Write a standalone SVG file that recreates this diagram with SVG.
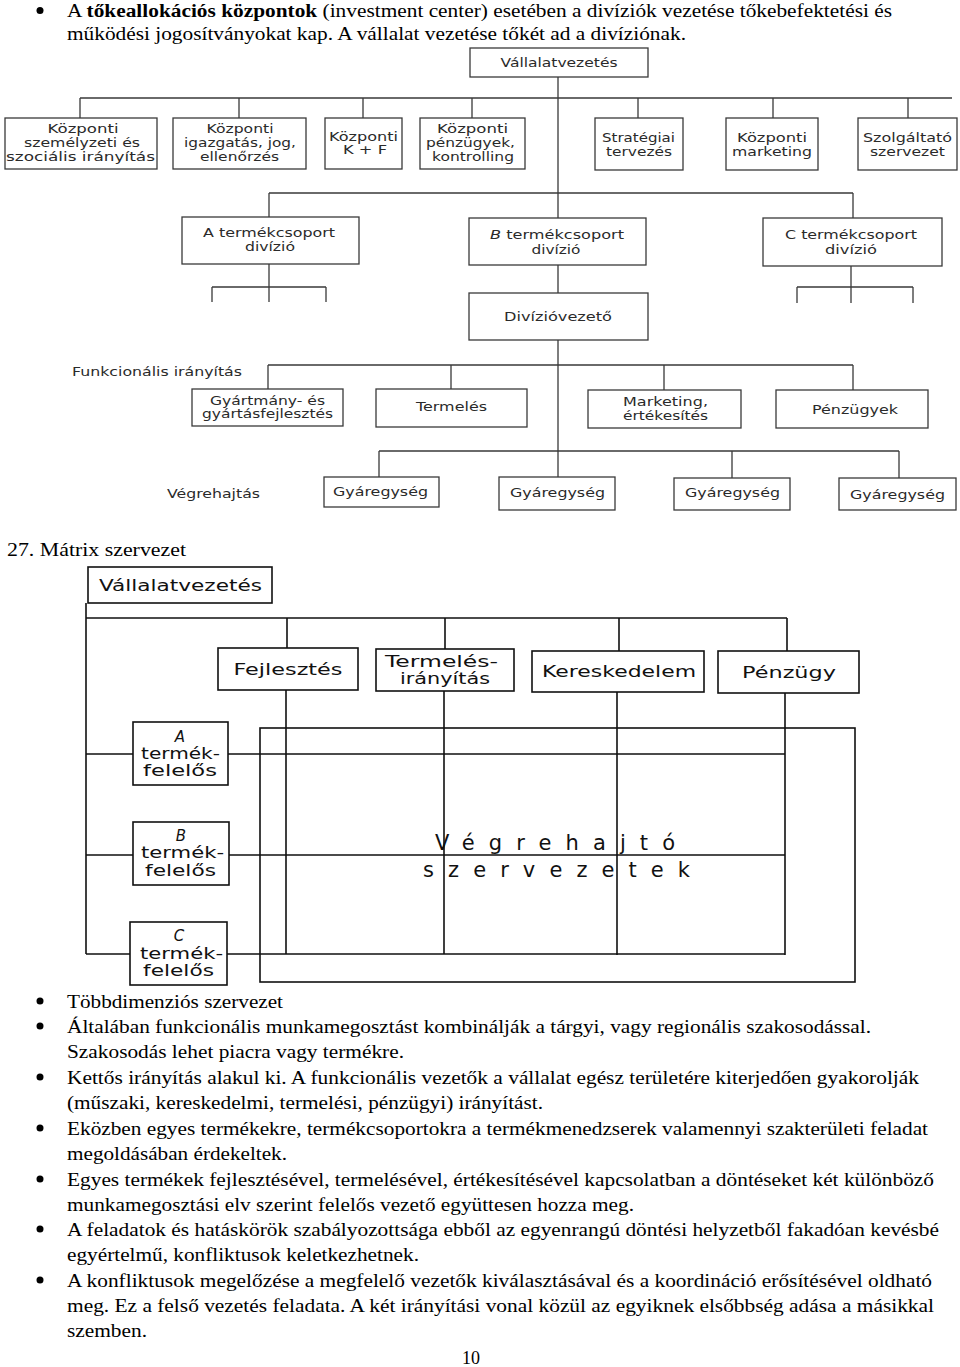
<svg xmlns="http://www.w3.org/2000/svg" width="960" height="1367" viewBox="0 0 960 1367">
<style>
.p{font-family:"Liberation Serif","Times New Roman",serif;font-size:18px;fill:#000}
.bul{fill:#000}
.b{fill:#fff;stroke:#3a3a3a;stroke-width:1.3}
.c{fill:none;stroke:#3a3a3a;stroke-width:1.3}
.t{font-family:"DejaVu Sans",sans-serif;font-size:11.5px;fill:#2a2a2a;text-anchor:middle}
.tl{font-family:"DejaVu Sans",sans-serif;font-size:11.5px;fill:#2a2a2a}
.mb{fill:#fff;stroke:#111;stroke-width:1.6}
.mc{fill:none;stroke:#111;stroke-width:1.6}
.mt{font-family:"DejaVu Sans",sans-serif;font-size:15px;fill:#111;text-anchor:middle}
.big{font-family:"DejaVu Sans",sans-serif;font-size:21px;fill:#111}
</style>
<rect width="960" height="1367" fill="#fff"/>

<!-- top paragraph -->
<g id="intro">
<circle class="bul" cx="40" cy="10.5" r="3.5"/>
<text class="p" x="67" y="16.5" textLength="825" lengthAdjust="spacingAndGlyphs">A <tspan font-weight="bold">tőkeallokációs központok</tspan> (investment center) esetében a divíziók vezetése tőkebefektetési és</text>
<text class="p" x="67" y="40" textLength="619" lengthAdjust="spacingAndGlyphs">működési jogosítványokat kap. A vállalat vezetése tőkét ad a divíziónak.</text>
</g>

<!-- top diagram connectors -->
<g id="connectors-top">
<path class="c" d="M558,77V218 M80,98H952 M80,98V118 M239,98V118 M363,98V118 M472,98V118 M638,98V118 M773,98V118 M908,98V118"/>
<path class="c" d="M269,193H853 M269,193V217 M853,193V218"/>
<path class="c" d="M269,264V302 M212,287H326 M212,287V302 M326,287V302"/>
<path class="c" d="M851,266V303 M797,287H913 M797,287V303 M913,287V303"/>
<path class="c" d="M558,265V293 M558,340V477"/>
<path class="c" d="M268,365H853 M268,365V389 M451,365V389 M664,365V390 M853,365V390"/>
<path class="c" d="M379,451H899 M379,451V477 M732,451V478 M899,451V478"/>
</g>

<g id="vallalatvezetes-top"><rect class="b" x="470" y="48" width="178" height="29"/><text class="t" x="559" y="67" textLength="117" lengthAdjust="spacingAndGlyphs">Vállalatvezetés</text></g>

<g id="kp-szemelyzeti"><rect class="b" x="5" y="118" width="152" height="51"/>
<text class="t" x="83" y="133" textLength="71" lengthAdjust="spacingAndGlyphs">Központi</text>
<text class="t" x="82" y="147" textLength="116" lengthAdjust="spacingAndGlyphs">személyzeti és</text>
<text class="t" x="80.5" y="161" textLength="149" lengthAdjust="spacingAndGlyphs">szociális irányítás</text></g>

<g id="kp-igazgatas"><rect class="b" x="173" y="118" width="133" height="51"/>
<text class="t" x="240" y="133" textLength="67" lengthAdjust="spacingAndGlyphs">Központi</text>
<text class="t" x="240" y="147" textLength="112" lengthAdjust="spacingAndGlyphs">igazgatás, jog,</text>
<text class="t" x="239.5" y="161" textLength="79" lengthAdjust="spacingAndGlyphs">ellenőrzés</text></g>

<g id="kp-kf"><rect class="b" x="325" y="118" width="77" height="51"/>
<text class="t" x="363.5" y="141" textLength="69" lengthAdjust="spacingAndGlyphs">Központi</text>
<text class="t" x="365" y="154" textLength="44" lengthAdjust="spacingAndGlyphs">K + F</text></g>

<g id="kp-penzugyek"><rect class="b" x="420" y="118" width="105" height="51"/>
<text class="t" x="472.5" y="133" textLength="71" lengthAdjust="spacingAndGlyphs">Központi</text>
<text class="t" x="470.5" y="147" textLength="89" lengthAdjust="spacingAndGlyphs">pénzügyek,</text>
<text class="t" x="473" y="161" textLength="82" lengthAdjust="spacingAndGlyphs">kontrolling</text></g>

<g id="strategiai"><rect class="b" x="595" y="118" width="88" height="52"/>
<text class="t" x="638.5" y="142" textLength="73" lengthAdjust="spacingAndGlyphs">Stratégiai</text>
<text class="t" x="639" y="156" textLength="66" lengthAdjust="spacingAndGlyphs">tervezés</text></g>

<g id="kp-marketing"><rect class="b" x="726" y="118" width="92" height="52"/>
<text class="t" x="772" y="142" textLength="70" lengthAdjust="spacingAndGlyphs">Központi</text>
<text class="t" x="772" y="156" textLength="80" lengthAdjust="spacingAndGlyphs">marketing</text></g>

<g id="szolgaltato"><rect class="b" x="858" y="118" width="99" height="52"/>
<text class="t" x="907.5" y="142" textLength="89" lengthAdjust="spacingAndGlyphs">Szolgáltató</text>
<text class="t" x="907.5" y="156" textLength="75" lengthAdjust="spacingAndGlyphs">szervezet</text></g>

<g id="a-divizio"><rect class="b" x="182" y="217" width="177" height="47"/>
<text class="t" x="269" y="237" textLength="132" lengthAdjust="spacingAndGlyphs">A termékcsoport</text>
<text class="t" x="270" y="251" textLength="50" lengthAdjust="spacingAndGlyphs">divízió</text></g>

<g id="b-divizio"><rect class="b" x="469" y="218" width="177" height="47"/>
<text class="t" x="557" y="239" textLength="134" lengthAdjust="spacingAndGlyphs"><tspan font-style="italic">B</tspan> termékcsoport</text>
<text class="t" x="556" y="254" textLength="49" lengthAdjust="spacingAndGlyphs">divízió</text></g>

<g id="c-divizio"><rect class="b" x="763" y="218" width="179" height="48"/>
<text class="t" x="851" y="239" textLength="132" lengthAdjust="spacingAndGlyphs">C termékcsoport</text>
<text class="t" x="851" y="254" textLength="52" lengthAdjust="spacingAndGlyphs">divízió</text></g>

<g id="diviziovezeto"><rect class="b" x="469" y="293" width="179" height="47"/>
<text class="t" x="558" y="321" textLength="108" lengthAdjust="spacingAndGlyphs">Divízióvezető</text></g>

<g id="label-funkc"><text class="tl" x="72" y="376" textLength="170" lengthAdjust="spacingAndGlyphs">Funkcionális irányítás</text></g>

<g id="gyartmany"><rect class="b" x="192" y="389" width="151" height="37"/>
<text class="t" x="267.5" y="405" textLength="115" lengthAdjust="spacingAndGlyphs">Gyártmány- és</text>
<text class="t" x="267.5" y="418" textLength="131" lengthAdjust="spacingAndGlyphs">gyártásfejlesztés</text></g>

<g id="termeles"><rect class="b" x="376" y="389" width="151" height="38"/>
<text class="t" x="451.5" y="411" textLength="71" lengthAdjust="spacingAndGlyphs">Termelés</text></g>

<g id="marketing"><rect class="b" x="588" y="390" width="153" height="38"/>
<text class="t" x="665.5" y="406" textLength="85" lengthAdjust="spacingAndGlyphs">Marketing,</text>
<text class="t" x="665.5" y="420" textLength="85" lengthAdjust="spacingAndGlyphs">értékesítés</text></g>

<g id="penzugyek"><rect class="b" x="776" y="390" width="152" height="38"/>
<text class="t" x="855" y="414" textLength="86" lengthAdjust="spacingAndGlyphs">Pénzügyek</text></g>

<g id="label-vegrehajtas"><text class="tl" x="167" y="498" textLength="93" lengthAdjust="spacingAndGlyphs">Végrehajtás</text></g>

<g id="gyaregyseg1"><rect class="b" x="324" y="477" width="115" height="30"/><text class="t" x="380.5" y="496" textLength="95" lengthAdjust="spacingAndGlyphs">Gyáregység</text></g>
<g id="gyaregyseg2"><rect class="b" x="499" y="477" width="116" height="33"/><text class="t" x="557.5" y="497" textLength="95" lengthAdjust="spacingAndGlyphs">Gyáregység</text></g>
<g id="gyaregyseg3"><rect class="b" x="674" y="478" width="116" height="32"/><text class="t" x="732.5" y="497" textLength="95" lengthAdjust="spacingAndGlyphs">Gyáregység</text></g>
<g id="gyaregyseg4"><rect class="b" x="839" y="478" width="117" height="32"/><text class="t" x="897.5" y="499" textLength="95" lengthAdjust="spacingAndGlyphs">Gyáregység</text></g>

<!-- heading -->
<g id="heading"><text class="p" x="7" y="556" textLength="179" lengthAdjust="spacingAndGlyphs">27. Mátrix szervezet</text></g>

<!-- matrix connectors -->
<g id="connectors-matrix">
<rect class="mc" x="260" y="728" width="595" height="254"/>
<path class="mc" d="M86,603V954 M86,618H787 M287,618V648 M445,618V649 M619,618V651 M787,618V651"/>
<path class="mc" d="M286,690V954 M444,691V954 M617,692V955 M785,693V955"/>
<path class="mc" d="M86,754H133 M228,754H785 M86,855H133 M229,855H785 M86,954H130 M227,954H785"/>
</g>

<g id="m-vallalatvezetes"><rect class="mb" x="88" y="567" width="184" height="36"/><text class="mt" x="180.5" y="591" font-size="16.5" textLength="163" lengthAdjust="spacingAndGlyphs">Vállalatvezetés</text></g>
<g id="m-fejlesztes"><rect class="mb" x="218" y="648" width="140" height="42"/><text class="mt" x="288" y="675" textLength="109" lengthAdjust="spacingAndGlyphs">Fejlesztés</text></g>
<g id="m-termelesiranyitas"><rect class="mb" x="376" y="649" width="138" height="42"/>
<text class="mt" x="441.5" y="667" textLength="113" lengthAdjust="spacingAndGlyphs">Termelés-</text>
<text class="mt" x="445" y="684" textLength="90" lengthAdjust="spacingAndGlyphs">irányítás</text></g>
<g id="m-kereskedelem"><rect class="mb" x="532" y="651" width="172" height="41"/><text class="mt" x="619" y="677" textLength="154" lengthAdjust="spacingAndGlyphs">Kereskedelem</text></g>
<g id="m-penzugy"><rect class="mb" x="718" y="651" width="141" height="42"/><text class="mt" x="789" y="678" textLength="94" lengthAdjust="spacingAndGlyphs">Pénzügy</text></g>

<g id="m-a-termekfelelos"><rect class="mb" x="133" y="722" width="95" height="63"/>
<text class="mt" x="180" y="742" font-style="italic">A</text>
<text class="mt" x="180.5" y="759" textLength="79" lengthAdjust="spacingAndGlyphs">termék-</text>
<text class="mt" x="180" y="776" textLength="74" lengthAdjust="spacingAndGlyphs">felelős</text></g>
<g id="m-b-termekfelelos"><rect class="mb" x="133" y="822" width="96" height="63"/>
<text class="mt" x="181" y="841" font-style="italic">B</text>
<text class="mt" x="182.5" y="858" textLength="83" lengthAdjust="spacingAndGlyphs">termék-</text>
<text class="mt" x="180.5" y="876" textLength="71" lengthAdjust="spacingAndGlyphs">felelős</text></g>
<g id="m-c-termekfelelos"><rect class="mb" x="130" y="922" width="97" height="63"/>
<text class="mt" x="179" y="941" font-style="italic">C</text>
<text class="mt" x="181.5" y="959" textLength="83" lengthAdjust="spacingAndGlyphs">termék-</text>
<text class="mt" x="178.5" y="976" textLength="71" lengthAdjust="spacingAndGlyphs">felelős</text></g>

<g id="m-vegrehajto">
<text class="big" x="435" y="850" textLength="240" lengthAdjust="spacing">Végrehajtó</text>
<text class="big" x="423" y="877" textLength="267" lengthAdjust="spacing">szervezetek</text>
</g>

<!-- bottom paragraphs -->
<g id="bullets">
<circle class="bul" cx="40" cy="1001" r="3.5"/>
<circle class="bul" cx="40" cy="1026" r="3.5"/>
<circle class="bul" cx="40" cy="1077" r="3.5"/>
<circle class="bul" cx="40" cy="1128" r="3.5"/>
<circle class="bul" cx="40" cy="1179" r="3.5"/>
<circle class="bul" cx="40" cy="1229" r="3.5"/>
<circle class="bul" cx="40" cy="1280" r="3.5"/>
</g>
<g id="body-text">
<text class="p" x="67" y="1008" textLength="216" lengthAdjust="spacingAndGlyphs">Többdimenziós szervezet</text>
<text class="p" x="67" y="1033" textLength="804" lengthAdjust="spacingAndGlyphs">Általában funkcionális munkamegosztást kombinálják a tárgyi, vagy regionális szakosodással.</text>
<text class="p" x="67" y="1058" textLength="337" lengthAdjust="spacingAndGlyphs">Szakosodás lehet piacra vagy termékre.</text>
<text class="p" x="67" y="1084" textLength="852" lengthAdjust="spacingAndGlyphs">Kettős irányítás alakul ki. A funkcionális vezetők a vállalat egész területére kiterjedően gyakorolják</text>
<text class="p" x="67" y="1109" textLength="476" lengthAdjust="spacingAndGlyphs">(műszaki, kereskedelmi, termelési, pénzügyi) irányítást.</text>
<text class="p" x="67" y="1135" textLength="861" lengthAdjust="spacingAndGlyphs">Eközben egyes termékekre, termékcsoportokra a termékmenedzserek valamennyi szakterületi feladat</text>
<text class="p" x="67" y="1160" textLength="220" lengthAdjust="spacingAndGlyphs">megoldásában érdekeltek.</text>
<text class="p" x="67" y="1186" textLength="867" lengthAdjust="spacingAndGlyphs">Egyes termékek fejlesztésével, termelésével, értékesítésével kapcsolatban a döntéseket két különböző</text>
<text class="p" x="67" y="1211" textLength="567" lengthAdjust="spacingAndGlyphs">munkamegosztási elv szerint felelős vezető együttesen hozza meg.</text>
<text class="p" x="67" y="1236" textLength="872" lengthAdjust="spacingAndGlyphs">A feladatok és hatáskörök szabályozottsága ebből az egyenrangú döntési helyzetből fakadóan kevésbé</text>
<text class="p" x="67" y="1261" textLength="352" lengthAdjust="spacingAndGlyphs">egyértelmű, konfliktusok keletkezhetnek.</text>
<text class="p" x="67" y="1287" textLength="865" lengthAdjust="spacingAndGlyphs">A konfliktusok megelőzése a megfelelő vezetők kiválasztásával és a koordináció erősítésével oldható</text>
<text class="p" x="67" y="1312" textLength="867" lengthAdjust="spacingAndGlyphs">meg. Ez a felső vezetés feladata. A két irányítási vonal közül az egyiknek elsőbbség adása a másikkal</text>
<text class="p" x="67" y="1337" textLength="80" lengthAdjust="spacingAndGlyphs">szemben.</text>
<text class="p" x="471" y="1364" text-anchor="middle">10</text>
</g>
</svg>
